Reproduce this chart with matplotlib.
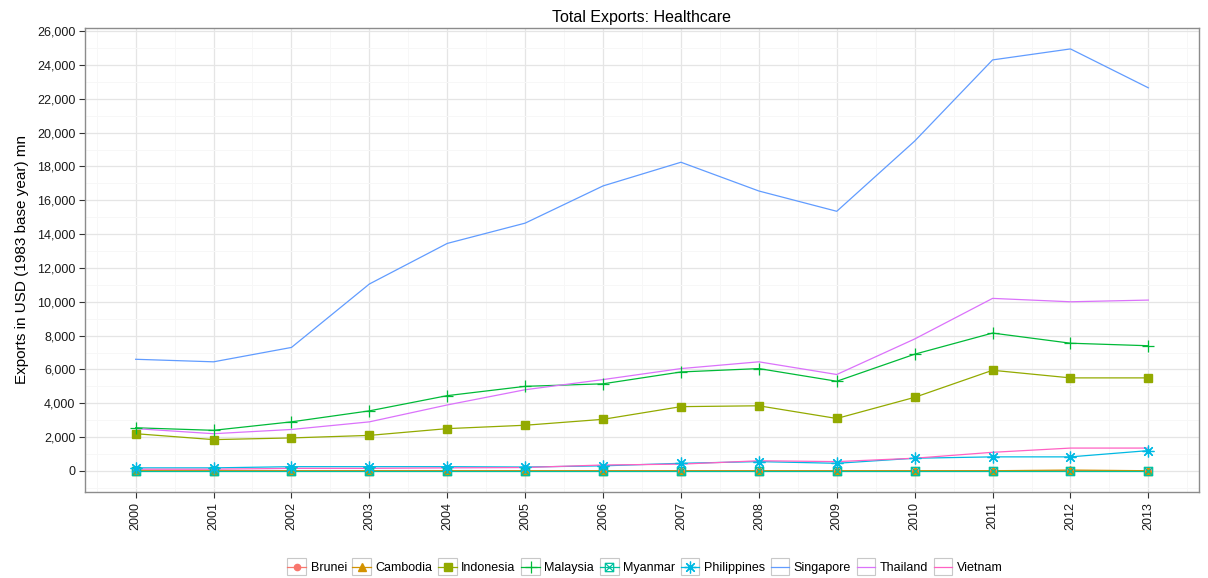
import matplotlib
matplotlib.use("Agg")
import matplotlib.pyplot as plt
from matplotlib.lines import Line2D
from matplotlib.patches import Rectangle
from matplotlib.path import Path
from matplotlib.legend_handler import HandlerLine2D
from matplotlib.ticker import FuncFormatter, MultipleLocator

plt.rcParams['font.family'] = ['Liberation Sans', 'DejaVu Sans']

years = list(range(2000, 2014))
countries = ['Brunei', 'Cambodia', 'Indonesia', 'Malaysia', 'Myanmar',
             'Philippines', 'Singapore', 'Thailand', 'Vietnam']

brunei = [15, 15, 15, 15, 15, 15, 15, 15, 15, 15, 15, 15, 20, 15]
cambodia = [5, 5, 5, 5, 5, 5, 5, 5, 5, 5, 10, 10, 50, 10]
indonesia = [2200, 1850, 1950, 2100, 2500, 2700, 3050, 3800, 3850, 3100, 4350, 5950, 5500, 5500]
malaysia = [2550, 2400, 2900, 3550, 4450, 5000, 5150, 5850, 6050, 5300, 6900, 8150, 7550, 7400]
myanmar = [5, 5, 5, 5, 5, 5, 5, 5, 5, 5, 5, 5, 5, 5]
philippines = [180, 180, 250, 250, 250, 230, 300, 450, 550, 450, 750, 830, 830, 1200]
singapore = [6600, 6450, 7300, 11050, 13450, 14650, 16850, 18250, 16550, 15350, 19500, 24300, 24950, 22650]
thailand = [2500, 2200, 2450, 2900, 3900, 4800, 5400, 6050, 6450, 5700, 7800, 10200, 10000, 10100]
vietnam = [100, 100, 150, 150, 180, 200, 350, 400, 600, 550, 750, 1100, 1350, 1350]

series = [brunei, cambodia, indonesia, malaysia, myanmar,
          philippines, singapore, thailand, vietnam]
colors = ['#F8766D', '#D39200', '#93AA00', '#00BA38', '#00C19F',
          '#00B9E3', '#619CFF', '#DB72FB', '#FF61C3']

# square with a cross through it (ggplot shape 7)
boxx = Path([(-1, -1), (1, -1), (1, 1), (-1, 1), (-1, -1),
             (-1, -1), (1, 1), (-1, 1), (1, -1)],
            [Path.MOVETO, Path.LINETO, Path.LINETO, Path.LINETO, Path.CLOSEPOLY,
             Path.MOVETO, Path.LINETO, Path.MOVETO, Path.LINETO])
markers = ['o', '^', 's', '+', boxx, (8, 2, 0), None, None, None]
msizes = [4.5, 5.5, 6, 9, 6, 8.5, 0, 0, 0]
filled = [True, True, True, False, False, False, False, False, False]

fig = plt.figure(figsize=(12.08, 5.78), dpi=100)
ax = fig.add_axes([85 / 1208, 1 - 492 / 578, 1114 / 1208, 464 / 578])

for vals, c in zip(series, colors):
    ax.plot(years, vals, color=c, lw=0.9, zorder=3)
for vals, c, m, ms, f in zip(series, colors, markers, msizes, filled):
    if m is None:
        continue
    if f:
        ax.plot(years, vals, ls='none', marker=m, ms=ms, color=c, mec=c, zorder=4)
    else:
        ax.plot(years, vals, ls='none', marker=m, ms=ms, color=c, mfc='none',
                mew=0.9, zorder=4)

ax.set_xlim(1999.35, 2013.65)
ax.set_ylim(-1247, 26187)
ax.set_xticks(years)
ax.set_xticklabels([str(y) for y in years], rotation=90)
ax.xaxis.set_minor_locator(MultipleLocator(0.5))
ax.yaxis.set_major_locator(MultipleLocator(2000))
ax.yaxis.set_minor_locator(MultipleLocator(1000))
ax.yaxis.set_major_formatter(FuncFormatter(lambda v, p: f'{int(v):,}'))

ax.grid(which='major', color='#E5E5E5', lw=0.9, zorder=0)
ax.grid(which='minor', color='#F7F7F7', lw=0.7, zorder=0)
ax.set_axisbelow(True)
for s in ax.spines.values():
    s.set_color('#8C8C8C')
    s.set_linewidth(1.0)
ax.tick_params(which='major', length=4, color='#333333', labelsize=9,
               labelcolor='#1a1a1a', pad=3)
ax.tick_params(which='minor', length=0)

ax.set_title('Total Exports: Healthcare', fontsize=11.5, pad=4)
ax.set_ylabel('Exports in USD (1983 base year) mn', fontsize=11, labelpad=6)


class BoxedHandler(HandlerLine2D):
    def create_artists(self, legend, orig_handle, xdescent, ydescent,
                       width, height, fontsize, trans):
        arts = super().create_artists(legend, orig_handle, xdescent, ydescent,
                                      width, height, fontsize, trans)
        box = Rectangle((-xdescent, -ydescent - 3), width, height + 6,
                        facecolor='white', edgecolor='#C8C8C8', lw=0.8,
                        transform=trans, zorder=0)
        return [box] + arts


handles = []
for c, m, ms, f in zip(colors, markers, msizes, filled):
    if m is None:
        handles.append(Line2D([], [], color=c, lw=0.9))
    elif f:
        handles.append(Line2D([], [], color=c, lw=0.9, marker=m, ms=ms, mec=c))
    else:
        handles.append(Line2D([], [], color=c, lw=0.9, marker=m, ms=ms,
                              mfc='none', mew=0.9))

fig.legend(handles, countries, loc='center', bbox_to_anchor=(645 / 1208, 1 - 568 / 578),
           ncol=9, frameon=False, fontsize=9, handlelength=1.5, handletextpad=0.35,
           columnspacing=0.45, borderpad=0, handler_map={Line2D: BoxedHandler(numpoints=1)})

fig.savefig('out.png', dpi=100)
